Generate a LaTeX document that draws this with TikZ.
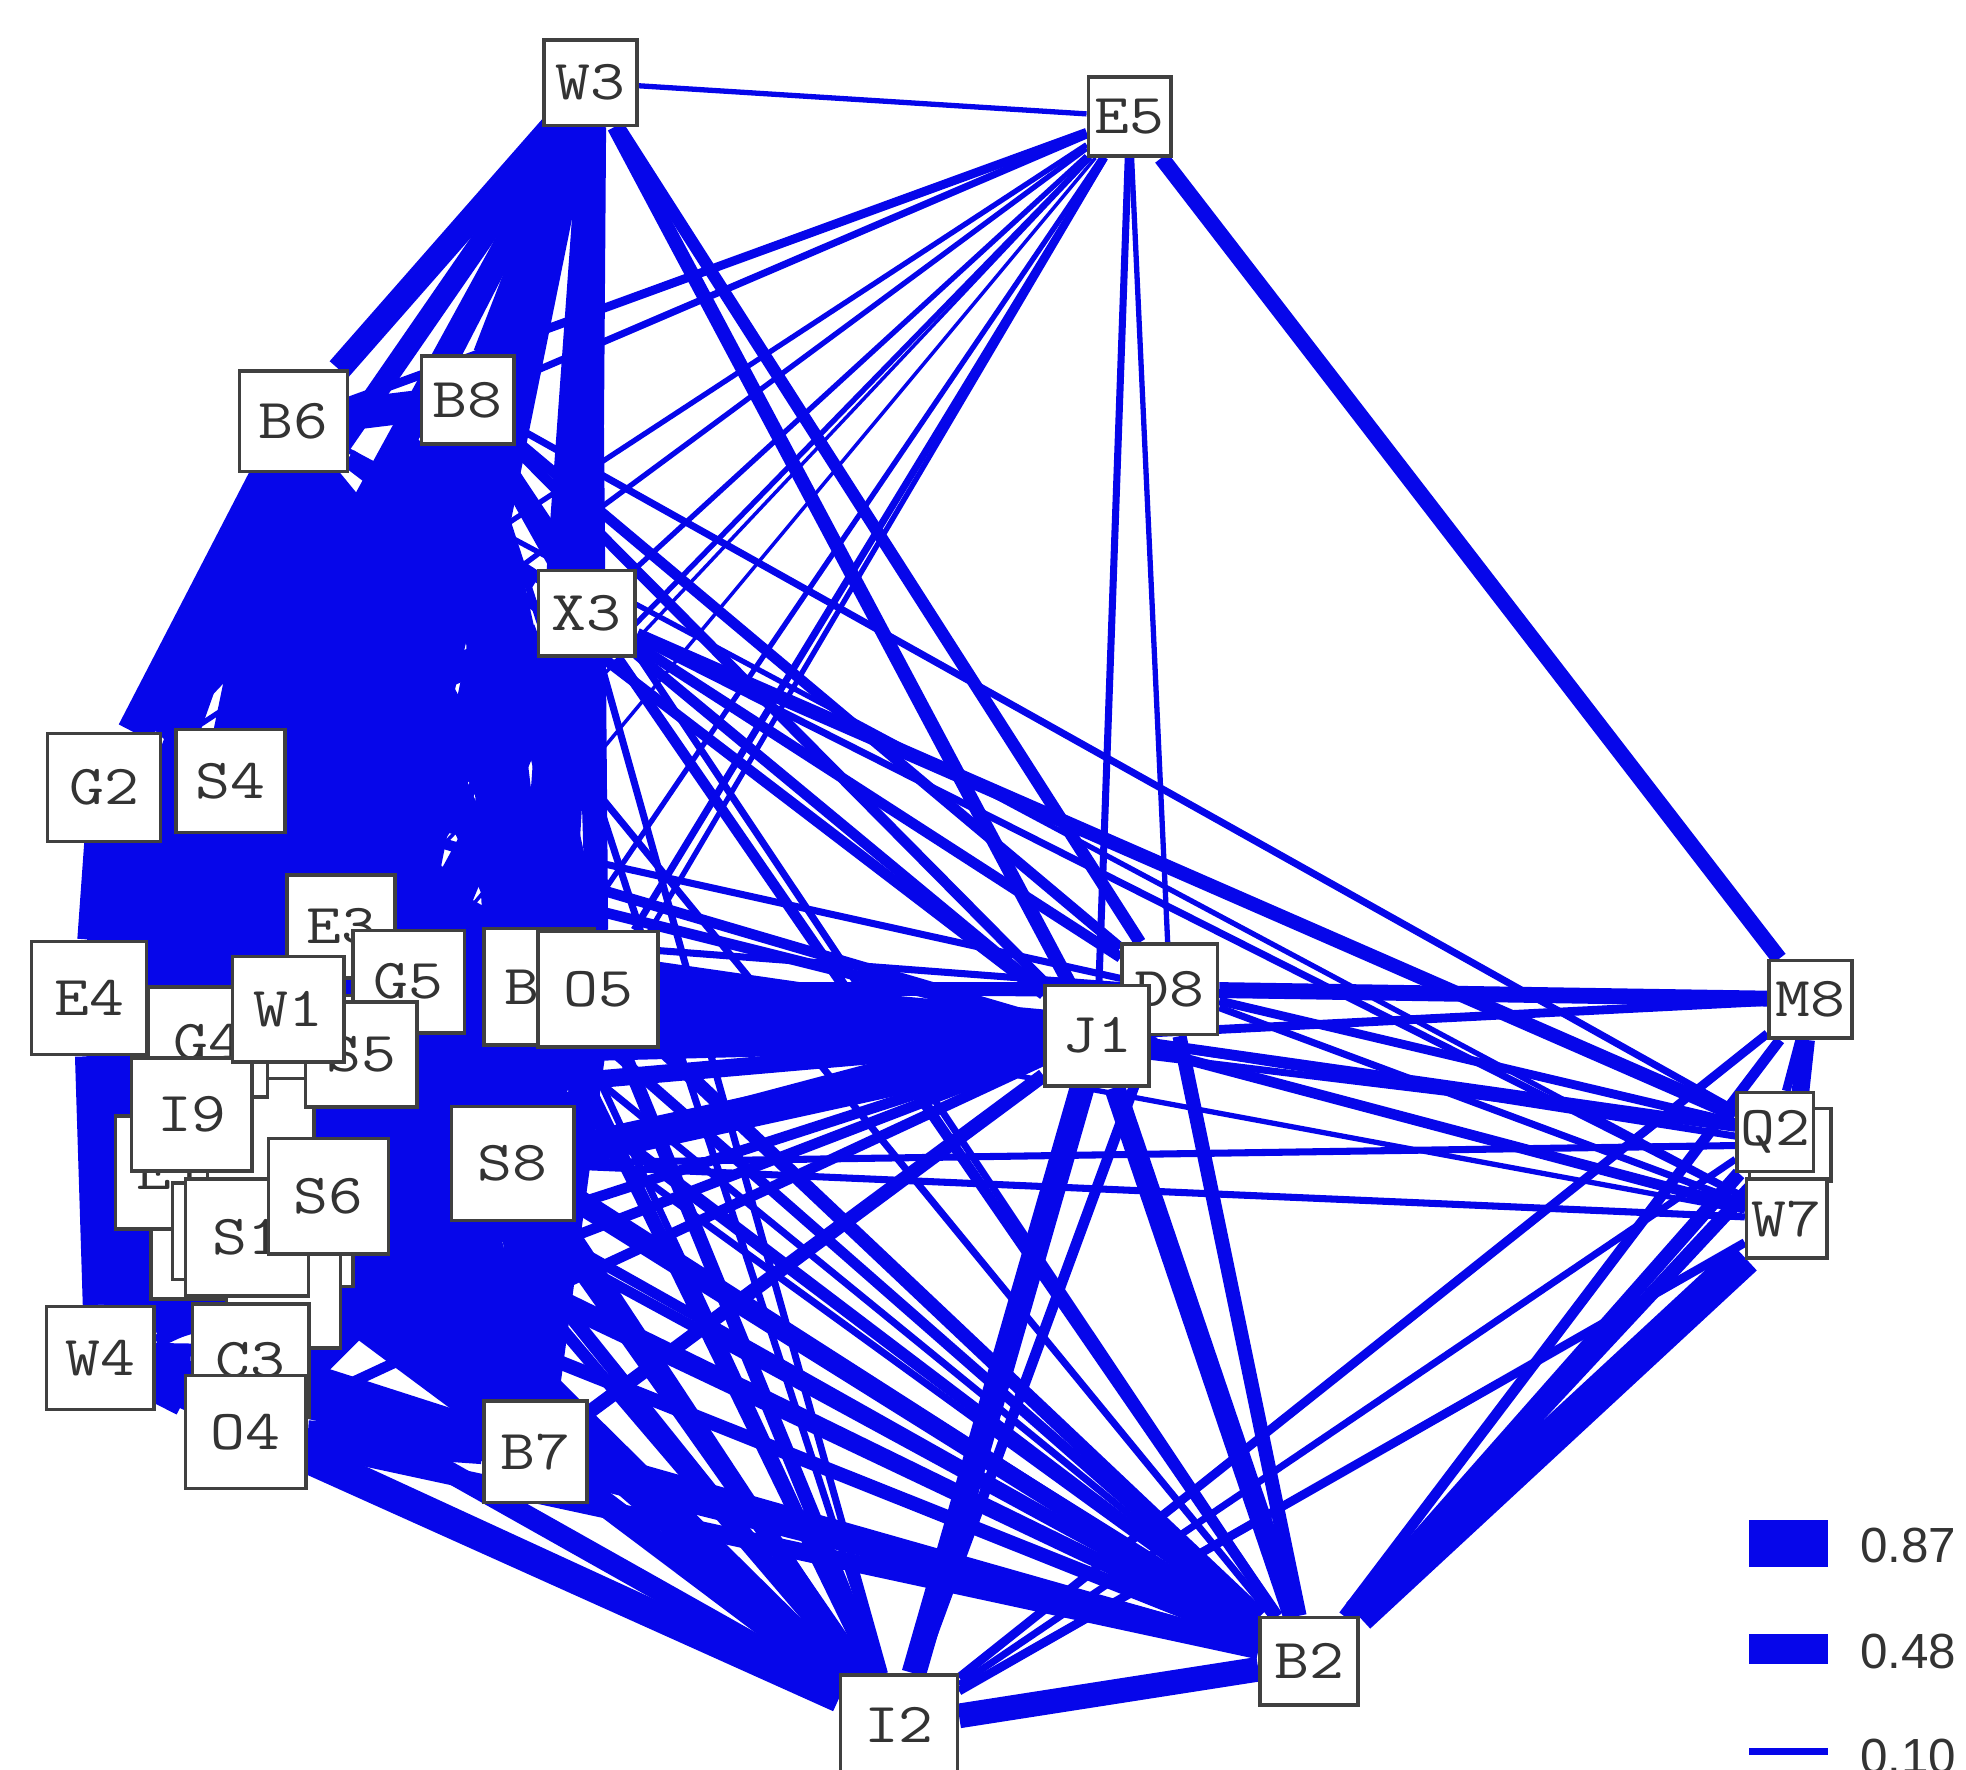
\documentclass[tikz,border=0pt]{standalone}
\usepackage{fontspec}
\setmainfont{Liberation Sans}
\newfontfamily\nodefont[FakeStretch=1.2]{Latin Modern Mono}
\usepackage{tikz}

\definecolor{netblue}{RGB}{6,6,234}
\pgfdeclarelayer{links}
\pgfsetlayers{links,main}

\tikzset{
  vx/.style 2 args={draw=black!75, line width=1pt, fill=white, inner sep=0pt,
    minimum width=#1*0.0125cm, minimum height=#2*0.0125cm,
    font=\nodefont\fontsize{16}{16}\selectfont, text=black!80},
  lnk/.style={draw=netblue, line width=#1},
  key/.style={font=\fontsize{14}{14}\selectfont, text=black!80, anchor=west, inner sep=0pt},
}
% the dense left group
\newcommand\leftgroup{B6,B8,G2,S4,E3,E4,G5,Bx,O5,G4,W1,S5,I9,Ha,S6,S1,S8,W4,C3,O4,B7}

\begin{document}
\begin{tikzpicture}[x=0.0125cm, y=-0.0125cm]
    \useasboundingbox (0,0) rectangle (1568,1411);
    % boxes lying underneath others
    \node[vx={89}{76}] (Hf) at (165,998) {};
    \node[vx={90}{90}] (Ha) at (137,935) {E1};
    \node[vx={93}{77}] (Hg) at (184,982) {};
    \node[vx={88}{80}] (Hb) at (255,834) {};
    \node[vx={85}{80}] (Hc) at (208,900) {};
    \node[vx={91}{66}] (Hd) at (236,993) {};
    \node[vx={91}{80}] (He) at (226,1035) {};
    % left group
    \node[vx={86}{82}] (E3) at (272,739) {E3};
    \node[vx={95}{88}] (G4) at (166,831) {G4};
    \node[vx={89}{82}] (G5) at (326,783) {G5};
    \node[vx={89}{84}] (S5) at (288,841) {S5};
    \node[vx={96}{90}] (I9) at (153,889) {I9};
    \node[vx={89}{84}] (W1) at (230,805) {W1};
    \node[vx={98}{93}] (S1) at (197,987) {S1};
    \node[vx={96}{92}] (S6) at (262,954) {S6};
    \node[vx={93}{90}] (C3) at (200,1085) {C3};
    \node[vx={96}{90}] (O4) at (196,1142) {O4};
    \node[vx={86}{82}] (W4) at (80,1083) {W4};
    \node[vx={92}{90}] (E4) at (71,796) {E4};
    \node[vx={90}{86}] (G2) at (83,628) {G2};
    \node[vx={87}{82}] (S4) at (184,623) {S4};
    \node[vx={86}{80}] (B6) at (234,336) {B6};
    \node[vx={74}{70}] (B8) at (373,319) {B8};
    \node[vx={77}{68}] (X3) at (468,489) {X3};
    \node[vx={88}{93}] (Bx) at (430,787) {B3};
    \node[vx={96}{92}] (O5) at (477,789) {O5};
    \node[vx={98}{91}] (S8) at (409,928) {S8};
    \node[vx={82}{81}] (B7) at (427,1158) {B7};
    % top and right
    \node[vx={74}{68}] (W3) at (471,66) {W3};
    \node[vx={66}{63}] (E5) at (901,93) {E5};
    \node[vx={76}{72}] (D8) at (933,789) {D8};
    \node[vx={83}{80}] (J1) at (875,826) {J1};
    \node[vx={66}{62}] (M8) at (1444,797) {M8};
    \node[vx={65}{58}] (Qx) at (1428,913) {};
    \node[vx={61}{63}] (Q2) at (1416,903) {Q2};
    \node[vx={64}{63}] (W7) at (1425,972) {W7};
    \node[vx={78}{70}] (B2) at (1044,1325) {B2};
    \node[vx={93}{80}] (I2) at (717,1376) {I2};

    \begin{pgfonlayer}{links}
      \foreach \aa [count=\i] in \leftgroup {
        \foreach \bb [count=\j] in \leftgroup {
          \ifnum\j>\i \draw[lnk=9pt] (\aa) -- (\bb); \fi
        }
      }
      \foreach \nn/\ww in {B6/7pt,B8/7pt,G2/6pt,S4/6pt,E3/5pt,E4/5pt,G5/5pt,Bx/6pt,O5/6pt,G4/4pt,W1/4pt,
          S5/4pt,I9/4pt,S6/4pt,S1/4pt,S8/5pt,W4/4pt,C3/4pt,O4/4pt,B7/4pt,X3/9pt} {
        \draw[lnk=\ww] (W3) -- (\nn);
      }
      \foreach \nn/\ww in {B6/5pt,B8/6pt,G2/4pt,S4/5pt,E3/5pt,E4/4pt,G5/5pt,Bx/6pt,O5/6pt,G4/4pt,W1/4pt,
          S5/4pt,I9/3pt,S6/4pt,S1/3pt,S8/5pt,W4/3pt,C3/3pt,O4/3pt,B7/4pt} {
        \draw[lnk=\ww] (X3) -- (\nn);
      }
      \foreach \nn/\ww in {B6/3pt,B8/3pt,G2/3pt,S4/3pt,E3/6pt,E4/5pt,G5/7pt,Bx/9pt,O5/12pt,G4/5pt,W1/6pt,
          S5/7pt,I9/5pt,S6/6pt,S1/4pt,S8/9pt,W4/3pt,C3/3pt,O4/3pt,B7/4pt,X3/3pt} {
        \draw[lnk=\ww] (J1) -- (\nn);
      }
      \foreach \nn/\ww in {B6/2pt,B8/3pt,X3/3pt,O5/4pt,Bx/3pt,G5/2pt,E3/2pt,S8/3pt,S4/2pt} {
        \draw[lnk=\ww] (D8) -- (\nn);
      }
      \foreach \nn/\ww in {B6/2pt,B8/2pt,G2/3pt,S4/3pt,E3/3pt,E4/5pt,G5/3pt,Bx/4pt,O5/4pt,G4/4pt,W1/3pt,
          S5/4pt,I9/5pt,Ha/4pt,S6/5pt,S1/6pt,S8/5pt,W4/7pt,C3/6pt,O4/8pt,B7/7pt,X3/2pt} {
        \draw[lnk=\ww] (I2) -- (\nn);
      }
      \foreach \nn/\ww in {B6/2pt,B8/2pt,G2/2pt,S4/2pt,E3/3pt,E4/3pt,G5/3pt,Bx/3pt,O5/4pt,G4/3pt,W1/3pt,
          S5/3pt,I9/3pt,S6/4pt,S1/4pt,S8/5pt,W4/4pt,C3/4pt,O4/5pt,B7/5pt,X3/3pt} {
        \draw[lnk=\ww] (B2) -- (\nn);
      }
      \foreach \nn/\ww in {W3/1.5pt,B6/2.5pt,B8/2pt,S4/1.5pt,G2/1.5pt,X3/1.5pt,O5/2pt,Bx/1.5pt,S8/1.5pt,
          G5/1pt,E3/1.5pt,W1/1pt,J1/2pt,D8/1.5pt,M8/4.5pt} {
        \draw[lnk=\ww] (E5) -- (\nn);
      }
      % right hand side
      \draw[lnk=4pt] (W3) -- (J1);
      \draw[lnk=3.5pt] (W3) -- (D8);
      \draw[lnk=4pt] (X3) -- (Q2);
      \draw[lnk=2pt] (X3) -- (W7);
      \draw[lnk=2pt] (B8) -- (Q2);
      \draw[lnk=1.5pt] (B6) -- (W7);
      \draw[lnk=2pt] (O5) -- (Q2);
      \draw[lnk=2pt] (S8) -- (Qx);
      \draw[lnk=2pt] (S8) -- (W7);
      \draw[lnk=2pt] (O5) -- (M8);
      \draw[lnk=1.5pt] (Bx) -- (W7);
      \draw[lnk=4.5pt] (D8) -- (M8);
      \draw[lnk=2.5pt] (J1) -- (M8);
      \draw[lnk=3pt] (J1) -- (Q2);
      \draw[lnk=2pt] (J1) -- (Qx);
      \draw[lnk=3pt] (J1) -- (W7);
      \draw[lnk=2.5pt] (D8) -- (Q2);
      \draw[lnk=2pt] (D8) -- (W7);
      \draw[lnk=2.5pt] (M8) -- (Q2);
      \draw[lnk=5pt] (M8) -- (W7);
      \draw[lnk=3pt] (M8) -- (B2);
      \draw[lnk=2.5pt] (M8) -- (I2);
      \draw[lnk=4pt] (Q2) -- (B2);
      \draw[lnk=4pt] (Qx) -- (B2);
      \draw[lnk=10pt] (W7) -- (B2);
      \draw[lnk=2.5pt] (W7) -- (I2);
      \draw[lnk=2pt] (Q2) -- (I2);
      \draw[lnk=7pt] (J1) -- (I2);
      \draw[lnk=6pt] (J1) -- (B2);
      \draw[lnk=4pt] (D8) -- (B2);
      \draw[lnk=3pt] (D8) -- (I2);
      \draw[lnk=7pt] (B2) -- (I2);
    \end{pgfonlayer}

    % legend
    \draw[lnk=13.5pt] (1395,1231) -- (1458,1231);
    \node[key] (k87) at (1483,1233) {0.87};
    \draw[lnk=8.5pt] (1395,1315) -- (1458,1315);
    \node[key] (k48) at (1483,1317) {0.48};
    \draw[lnk=2pt] (1395,1397) -- (1458,1397);
    \node[key] (k10) at (1483,1401) {0.10};
\end{tikzpicture}
\end{document}
